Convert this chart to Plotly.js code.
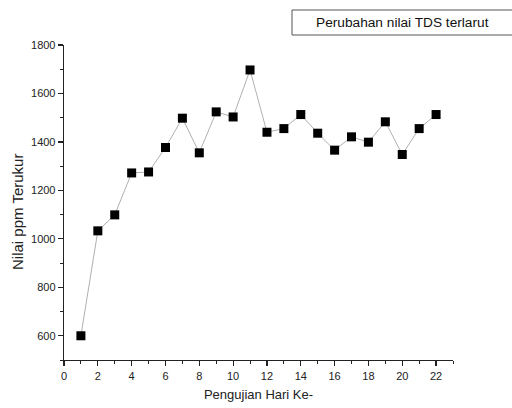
<!DOCTYPE html>
<html>
<head>
<meta charset="utf-8">
<script src="https://cdn.plot.ly/plotly-3.0.1.min.js"></script>
<style>html,body{margin:0;padding:0;background:#fff;}#chart{width:512px;height:408px;}</style>
</head>
<body>
<div id="chart"></div>
<script>
const days = [1,2,3,4,5,6,7,8,9,10,11,12,13,14,15,16,17,18,19,20,21,22];
const ppm = [600,1033,1099,1272,1276,1377,1498,1355,1524,1503,1697,1440,1455,1513,1436,1366,1421,1399,1483,1348,1455,1513];
const seriesName = 'Perubahan nilai TDS terlarut';
const xTitle = 'Pengujian Hari Ke-';
const yTitle = 'Nilai ppm Terukur';

const font = 'Arial, "Liberation Sans", sans-serif';

const trace = {
  x: days, y: ppm, type: 'scatter', mode: 'lines+markers', name: seriesName,
  line: {color: '#b0b0b0', width: 1},
  marker: {symbol: 'square', size: 9, color: '#000'}
};

const axisCommon = {
  showgrid: false, zeroline: false, showline: true, linecolor: '#222', linewidth: 1.3,
  ticks: 'outside', ticklen: 5, tickwidth: 1.2, tickcolor: '#222',
  tickfont: {family: font, size: 11, color: '#222'}
};

const layout = {
  width: 512, height: 408,
  margin: {l: 64, r: 59, t: 45, b: 48},
  paper_bgcolor: '#fff', plot_bgcolor: '#fff',
  showlegend: false,
  font: {family: font, color: '#222'},
  xaxis: Object.assign({}, axisCommon, {
    range: [0, 23], tick0: 0, dtick: 2,
    minor: {ticks: 'outside', ticklen: 3, tickwidth: 1, tickcolor: '#222', dtick: 1},
    title: {text: xTitle, font: {family: font, size: 13, color: '#222'}, standoff: 9}
  }),
  yaxis: Object.assign({}, axisCommon, {
    range: [500, 1800], tick0: 600, dtick: 200,
    minor: {ticks: 'outside', ticklen: 3, tickwidth: 1, tickcolor: '#222', dtick: 100}
  }),
  shapes: [{
    type: 'rect', xref: 'paper', yref: 'paper',
    x0: (292 - 64) / 389, x1: (515 - 64) / 389,
    y0: (360 - 35) / 315, y1: (360 - 10) / 315,
    line: {color: '#555', width: 1}, fillcolor: 'rgba(0,0,0,0)'
  }],
  annotations: [{
    text: seriesName, xref: 'paper', yref: 'paper',
    x: (402 - 64) / 389, y: (360 - 22.5) / 315,
    xanchor: 'center', yanchor: 'middle', showarrow: false,
    font: {family: font, size: 13.7, color: '#111'}
  }, {
    text: yTitle, xref: 'paper', yref: 'paper', textangle: -90,
    x: (17 - 64) / 389, y: (360 - 212) / 315,
    xanchor: 'center', yanchor: 'middle', showarrow: false,
    font: {family: font, size: 15, color: '#222'}
  }]
};

Plotly.newPlot('chart', [trace], layout, {displayModeBar: false, staticPlot: true});
</script>
</body>
</html>
